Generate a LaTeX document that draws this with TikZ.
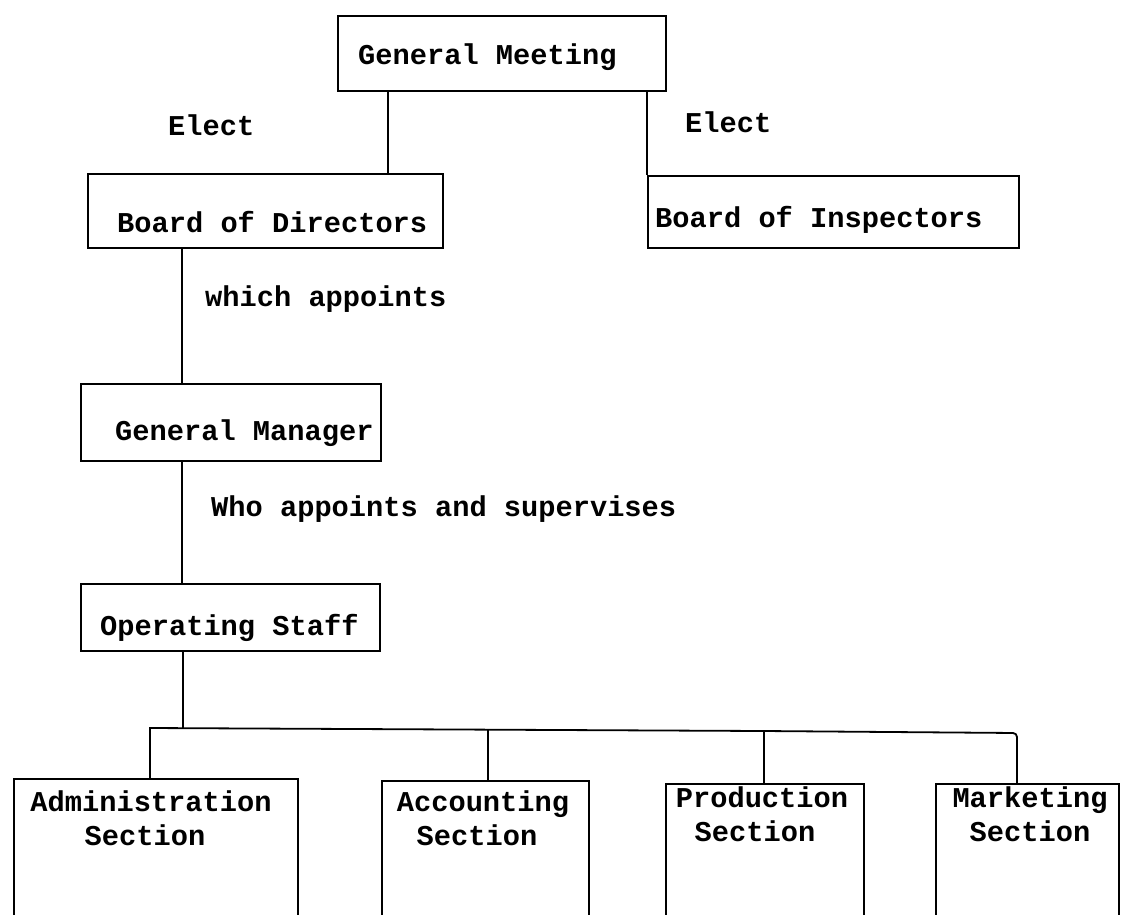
\documentclass[tikz,border=0pt]{standalone}
\usepackage{fontspec}
\setmonofont{Liberation Mono}
\begin{document}
\begin{tikzpicture}[x=1pt,y=-1pt,
  box/.style={draw, line width=1.8pt, inner sep=0pt, anchor=north west},
  lbl/.style={font=\ttfamily\bfseries\fontsize{28.7}{34}\selectfont, inner sep=0pt, anchor=base west},
  clbl/.style={font=\ttfamily\bfseries\fontsize{28.7}{34}\selectfont, inner sep=0pt, anchor=base},
  link/.style={line width=1.8pt}]
\useasboundingbox (0,0) rectangle (1127,914);
\fill[white] (0,0) rectangle (1127,914);
\clip (0,0) rectangle (1127,914);

% boxes
\node[box, minimum width=328pt, minimum height=75pt] (gm) at (337,15) {};
\node[box, minimum width=355pt, minimum height=74pt] (bod) at (87,173) {};
\node[box, minimum width=371pt, minimum height=72pt] (boi) at (647,175) {};
\node[box, minimum width=300pt, minimum height=77pt] (gmgr) at (80,383) {};
\node[box, minimum width=299pt, minimum height=67pt] (os) at (80,583) {};
\node[box, minimum width=284pt, minimum height=200pt] (adm) at (13,778) {};
\node[box, minimum width=207pt, minimum height=200pt] (acc) at (381,780) {};
\node[box, minimum width=198pt, minimum height=200pt] (prod) at (665,783) {};
\node[box, minimum width=183pt, minimum height=200pt] (mkt) at (935,783) {};

% texts
\node[lbl] (gmT) at (358,64) {General Meeting};
\node[lbl] (bodT) at (117,232) {Board of Directors};
\node[lbl] (boiT) at (655,227) {Board of Inspectors};
\node[lbl] (electL) at (168,135) {Elect};
\node[lbl] (electR) at (685,132) {Elect};
\node[lbl] (which) at (205,306) {which appoints};
\node[lbl] (gmgrT) at (115,440) {General Manager};
\node[lbl] (who) at (211,516) {Who appoints and supervises};
\node[lbl] (osT) at (100,635) {Operating Staff};
\node[clbl] (admA) at (151,811) {Administration};
\node[clbl] (admB) at (145,845) {Section};
\node[clbl] (accA) at (483,811) {Accounting};
\node[clbl] (accB) at (477,845) {Section};
\node[clbl] (prodA) at (762,807) {Production};
\node[clbl] (prodB) at (755,841) {Section};
\node[clbl] (mktA) at (1030,807) {Marketing};
\node[clbl] (mktB) at (1030,841) {Section};

% connectors
\draw[link] (388,0 |- gm.south) -- (388,0 |- bod.north);
\draw[link] (gm.south -| boi.west) -- (boi.north west);
\draw[link] (182,0 |- bod.south) -- (182,0 |- gmgr.north);
\draw[link] (182,0 |- gmgr.south) -- (182,0 |- os.north);
\coordinate (busL) at (150,728);
\coordinate (busM) at (183,728);
\coordinate (busA) at (488,730);
\coordinate (busP) at (764,731);
\coordinate (busR) at (1017,733);
\draw[link] (183,0 |- os.south) -- (busM);
\draw[link] (150,0 |- adm.north) -- (busL) -- (busP);
\draw[link, rounded corners=4pt] (busP) -- (busR) -- (1017,0 |- mkt.north);
\draw[link] (busA) -- (488,0 |- acc.north);
\draw[link] (busP) -- (764,0 |- prod.north);
\end{tikzpicture}
\end{document}
